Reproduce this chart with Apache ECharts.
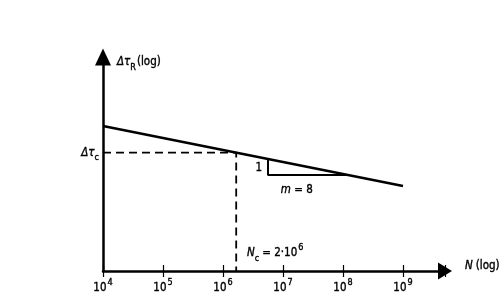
<!DOCTYPE html>
<html>
<head>
<meta charset="utf-8">
<script src="https://cdn.jsdelivr.net/npm/echarts@6/dist/echarts.min.js"></script>
<style>html,body{margin:0;padding:0;background:#fff}#c{width:504px;height:300px}</style>
</head>
<body>
<div id="c"></div>
<script>
// log10(N) exponents shown as tick labels
const nExponents = [4, 5, 6, 7, 8, 9];
// S-N line (x = log10 N, y = log stress, arbitrary units)
const snLine = [[4, 7.25], [9, 4.25]];
// constant amplitude limit point
const NcExp = 6.22;
const tauCLevel = 5.92;
// slope triangle
const slopeTri = [[6.75, 5.6], [6.75, 4.8], [8.08, 4.8]];

const FONT = '"DejaVu Sans Condensed", "Liberation Sans Narrow", "Liberation Sans", Arial, sans-serif';
const ink = '#000';

const chart = echarts.init(document.getElementById('c'));
const base = {fontFamily: FONT, color: ink, textBorderColor: ink, textBorderWidth: 0.35};
const sup = {
  b: Object.assign({fontSize: 11.5, lineHeight: 20, verticalAlign: 'middle'}, base),
  s: Object.assign({fontSize: 9, verticalAlign: 'top', padding: [0, 0, 0, 1]}, base),
  i: Object.assign({fontSize: 11.5, fontStyle: 'italic', lineHeight: 20, verticalAlign: 'middle'}, base),
  sub: Object.assign({fontSize: 9, verticalAlign: 'bottom', padding: [0, 1, 0, 0]}, base),
  sub0: Object.assign({fontSize: 9, verticalAlign: 'bottom'}, base),
  gap: {width: 3, fontSize: 11.5}
};

chart.setOption({
  animation: false,
  backgroundColor: '#fff',
  grid: {left: 103, right: 59, top: 57, bottom: 29},
  xAxis: [{
    type: 'value', min: 4, max: 9.7, interval: 1,
    axisLine: {lineStyle: {color: ink, width: 2.5}, symbol: ['none', 'triangle'], symbolSize: [17, 14]},
    axisTick: {show: true, inside: false, length: 6, lineStyle: {color: ink, width: 1.2}},
    axisLabel: {
      margin: 7,
      formatter: v => Number.isInteger(v) && nExponents.includes(v) ? '{b|10}{s|' + v + '}' : '',
      rich: sup
    },
    splitLine: {show: false},
    name: '{i|N}{gap|}{b|(log)}',
    nameLocation: 'end', nameGap: 20,
    nameTextStyle: {align: 'left', verticalAlign: 'middle', padding: [0, 0, 10, 0], rich: sup}
  }, {
    type: 'value', min: 4, max: 9.7, interval: 1, position: 'bottom',
    axisLine: {show: false},
    axisTick: {show: true, inside: true, length: 6, lineStyle: {color: ink, width: 1.2}},
    axisLabel: {show: false}, splitLine: {show: false}
  }],
  yAxis: {
    type: 'value', min: 0, max: 10.7,
    axisLine: {show: true, lineStyle: {color: ink, width: 2.5}, symbol: ['none', 'triangle'], symbolSize: [16, 17]},
    axisTick: {show: false}, axisLabel: {show: false}, splitLine: {show: false},
    name: '{i|Δτ}{sub|R}{b|(log)}',
    nameLocation: 'end', nameGap: -5,
    nameTextStyle: {align: 'left', verticalAlign: 'middle', padding: [0, 0, 0, 14], rich: sup}
  },
  series: [
    {type: 'line', data: snLine, symbol: 'none', lineStyle: {color: ink, width: 2.5}, z: 5},
    {type: 'line', data: [[4, tauCLevel], [NcExp, tauCLevel], [NcExp, 0]], symbol: 'none',
     lineStyle: {color: ink, width: 1.8, type: [8, 5]}},
    {type: 'line', data: slopeTri, symbol: 'none', lineStyle: {color: ink, width: 2}},
    {type: 'scatter', symbolSize: 0, silent: true, itemStyle: {opacity: 1},
     data: [
       {value: [4, tauCLevel], label: {show: true, position: 'left', distance: 4, formatter: '{i|Δτ}{sub0|c}', rich: sup}},
       {value: [6.75, 5.15], label: {show: true, position: 'left', distance: 6, formatter: '{b|1}', rich: sup}},
       {value: [7.23, 4.05], label: {show: true, position: 'inside', formatter: '{i|m} {b|= 8}', rich: sup}},
       {value: [6.87, 0.9], label: {show: true, position: 'inside', formatter: '{i|N}{sub0|c}{gap|}{b|= 2·10}{s|6}', rich: sup}}
     ]}
  ]
});
</script>
</body>
</html>
